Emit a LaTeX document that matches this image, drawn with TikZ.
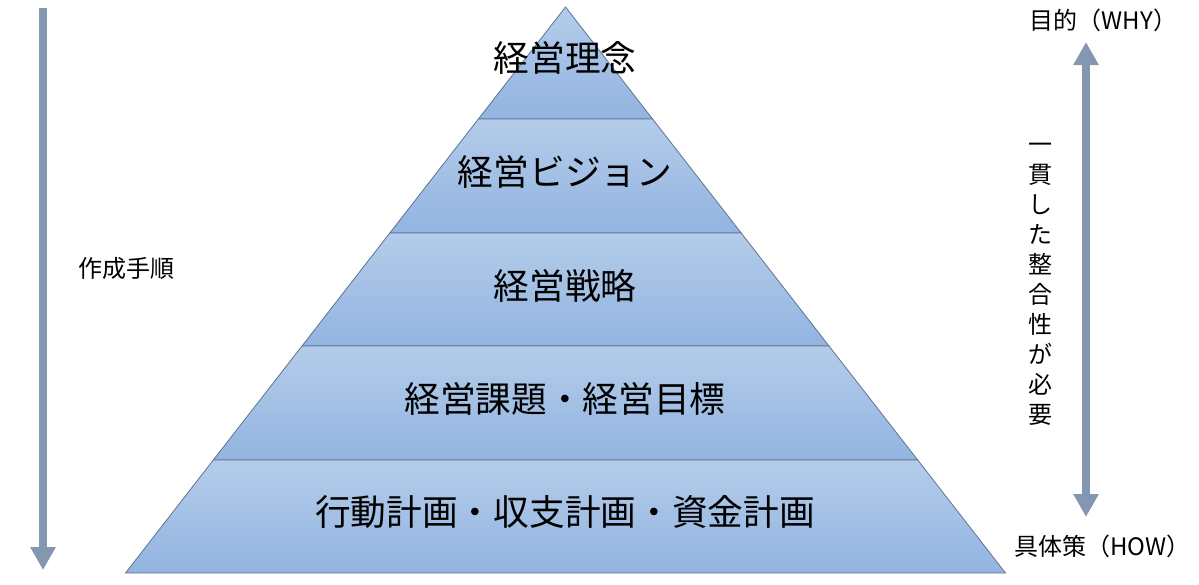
\documentclass[tikz,border=0pt]{standalone}
\usepackage{fontspec}
\setmainfont{Noto Sans CJK JP}
\usetikzlibrary{arrows.meta}
\definecolor{arr}{HTML}{8497B0}
\definecolor{ltop}{HTML}{B4CCEA}
\definecolor{lbot}{HTML}{92B4E0}
\definecolor{edge}{HTML}{5F7390}
\begin{document}
\begin{tikzpicture}[x=1pt,y=-1pt,
  layer/.style={top color=ltop,bottom color=lbot,draw=edge,line width=0.8pt},
  big/.style={font=\fontsize{35.7}{40}\selectfont,inner sep=0pt},
  small/.style={font=\fontsize{24}{30}\selectfont,inner sep=0pt},
  bigarrow/.style={draw=arr,line width=8pt,-{Triangle[width=24pt,length=23pt]}},
  dblarrow/.style={draw=arr,line width=8pt,{Triangle[width=24pt,length=23pt]}-{Triangle[width=24pt,length=23pt]}}]
\useasboundingbox (0,0) rectangle (1199,584);
% pyramid layers
\path[layer] (565.5,7) -- (652.6,119) -- (478.4,119) -- cycle;
\path[layer] (478.4,119) -- (652.6,119) -- (741.2,233) -- (389.8,233) -- cycle;
\path[layer] (389.8,233) -- (741.2,233) -- (829,346) -- (302,346) -- cycle;
\path[layer] (302,346) -- (829,346) -- (917.7,460) -- (213.3,460) -- cycle;
\path[layer] (213.3,460) -- (917.7,460) -- (1005.5,573) -- (125.5,573) -- cycle;
% labels
\node[big] (t1) at (565,58) {経営理念};
\node[big] (t2) at (565,172) {経営ビジョン};
\node[big] (t3) at (565,286) {経営戦略};
\node[big] (t4) at (565,399) {経営課題・経営目標};
\node[big] (t5) at (565,512) {行動計画・収支計画・資金計画};
% left arrow
\coordinate (ls) at (43,8);
\coordinate (le) at (43,570);
\draw[bigarrow] (ls) -- (le);
\node[small] (proc) at (126,268) {作成手順};
% right arrow
\coordinate (rs) at (1086,42);
\coordinate (re) at (1086,517);
\draw[dblarrow] (rs) -- (re);
\node[small] (why) at (1103.5,20) {目的（WHY）};
\node[small] (how) at (1102.5,546) {具体策（HOW）};
\node[small,align=center] (vert) at (1040,284) {一\\貫\\し\\た\\整\\合\\性\\が\\必\\要};
\end{tikzpicture}
\end{document}
